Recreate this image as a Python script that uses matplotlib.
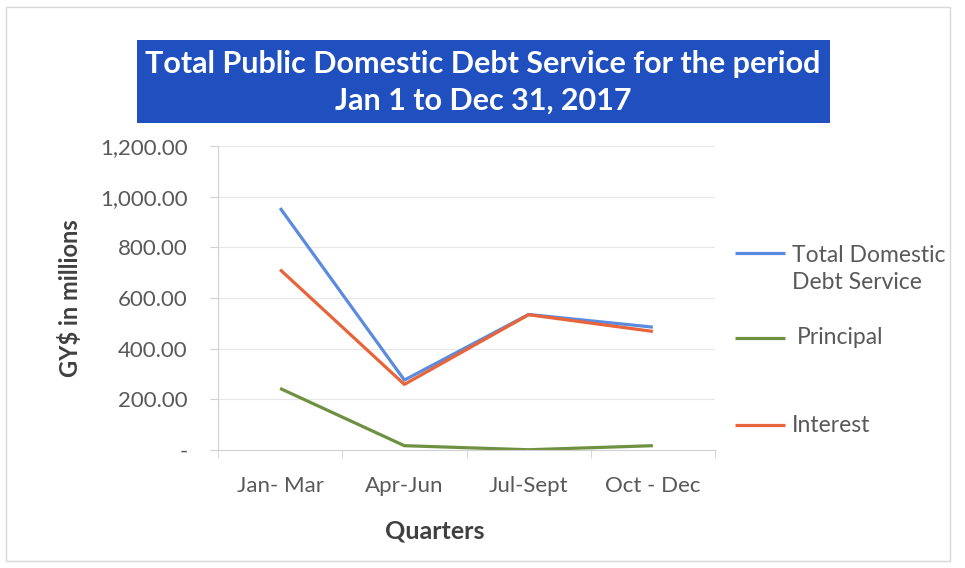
import matplotlib
matplotlib.use("Agg")
import matplotlib.pyplot as plt
from matplotlib.lines import Line2D
from matplotlib.patches import Rectangle
from matplotlib.ticker import FuncFormatter

# Quarterly debt service, GY$ millions
quarters = ["Jan- Mar", "Apr-Jun", "Jul-Sept", "Oct - Dec"]
total_service = [955, 276, 535, 485]
principal = [243, 17, 1, 17]
interest = [712, 259, 534, 468]

series_labels = ["Total Domestic\nDebt Service", " Principal", "Interest"]
series_colors = ["#5B8BDE", "#6E9140", "#E8643A"]

plt.rcParams["font.family"] = ["Lato", "DejaVu Sans"]

W, H = 965, 568
fig = plt.figure(figsize=(W / 100, H / 100), dpi=100)
ax = fig.add_axes([218 / W, 1 - 450 / H, 497 / W, 304 / H])

x = list(range(len(quarters)))
lines = []
for vals, lab, col in zip([total_service, principal, interest], series_labels, series_colors):
    ln, = ax.plot(x, vals, color=col, linewidth=2.3, label=lab, solid_capstyle="butt")
    lines.append(ln)

ax.set_xlim(-0.5, len(quarters) - 0.5)
ax.set_ylim(0, 1200)
ax.set_yticks(range(0, 1201, 200))


def money(v, pos):
    return "-" if v == 0 else f"{v:,.2f}"


ax.yaxis.set_major_formatter(FuncFormatter(money))
ax.set_xticks(x)
ax.set_xticklabels(quarters)
ax.set_xticks([i - 0.5 for i in range(len(quarters) + 1)], minor=True)

ax.tick_params(axis="y", colors="#d0d0d0", labelcolor="#595959", labelsize=16, length=6, pad=16)
ax.tick_params(axis="x", which="major", length=0, labelcolor="#595959", labelsize=16, pad=19)
ax.tick_params(axis="x", which="minor", length=6, color="#d0d0d0")

ax.grid(axis="y", color="#e6e6e6", linewidth=0.8)
ax.set_axisbelow(True)
for side in ["top", "right"]:
    ax.spines[side].set_visible(False)
for side in ["left", "bottom"]:
    ax.spines[side].set_color("#d0d0d0")

ax.set_ylabel("GY$ in millions", fontsize=17, fontweight="bold", color="#404040")
ax.yaxis.set_label_coords((82 - 218) / 497, 0.5)
ax.set_xlabel("Quarters", fontsize=18, fontweight="bold", color="#404040")
ax.xaxis.set_label_coords((435 - 218) / 497, -(531 - 450) / 304)
ax.xaxis.label.set_va("center")

# Legend on the right, laid out by hand
legend_rows = [(253, 269, 792), (338, 338, 797), (425, 425, 792)]
for ln, lab, (yh, yt, xt) in zip(lines, series_labels, legend_rows):
    fig.add_artist(Line2D([735 / W, 785 / W], [1 - yh / H, 1 - yh / H],
                          transform=fig.transFigure, color=ln.get_color(),
                          linewidth=2.3, solid_capstyle="butt"))
    fig.text(xt / W, 1 - yt / H, lab.strip(), ha="left", va="center",
             fontsize=16.5, color="#595959", linespacing=1.38)

# Title banner
fig.patches.append(Rectangle((137 / W, 1 - 123 / H), 693 / W, 83 / H, transform=fig.transFigure,
                             facecolor="#2050C0", edgecolor="none"))
fig.text(483 / W, 1 - 82 / H, "Total Public Domestic Debt Service for the period\nJan 1 to Dec 31, 2017",
         ha="center", va="center", color="white", fontsize=22, fontweight="bold",
         linespacing=1.36)

# Chart border
fig.patches.append(Rectangle((0.006, 0.012), 0.978, 0.976, transform=fig.transFigure,
                             facecolor="none", edgecolor="#d9d9d9", linewidth=1))

fig.savefig("out.png", dpi=100)
